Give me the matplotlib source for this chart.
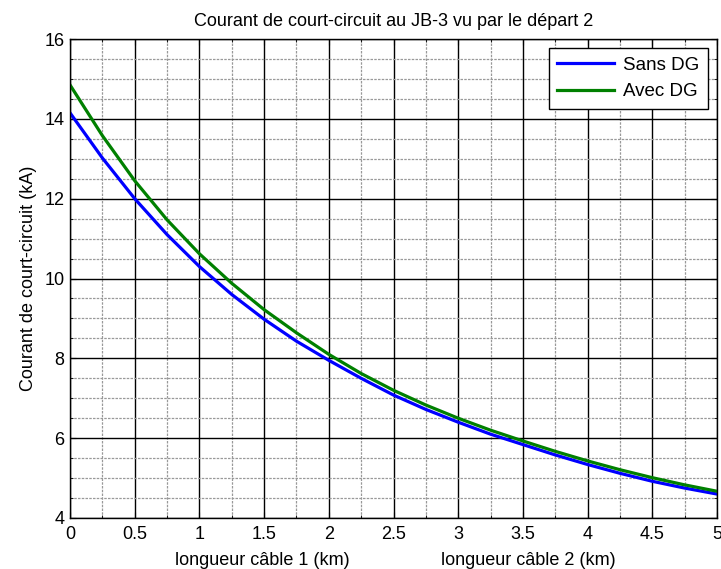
import matplotlib
matplotlib.use('Agg')
import matplotlib.pyplot as plt
from matplotlib.ticker import MultipleLocator
from matplotlib import transforms

plt.rcParams['font.family'] = ['Liberation Sans', 'DejaVu Sans']

# distance along the cables (km) and short-circuit current (kA)
longueur = [0, 0.25, 0.5, 0.75, 1, 1.25, 1.5, 1.75, 2, 2.25, 2.5,
            2.75, 3, 3.25, 3.5, 3.75, 4, 4.25, 4.5, 4.75, 5]
sans_dg = [14.15, 13.02, 12.0, 11.1, 10.3, 9.6, 8.98, 8.43, 7.95, 7.5, 7.08,
           6.72, 6.4, 6.1, 5.84, 5.58, 5.34, 5.12, 4.92, 4.75, 4.6]
avec_dg = [14.85, 13.58, 12.45, 11.47, 10.62, 9.88, 9.22, 8.64, 8.1, 7.62, 7.2,
           6.83, 6.5, 6.2, 5.93, 5.67, 5.43, 5.21, 5.01, 4.83, 4.67]

xticks = [0, 0.5, 1, 1.5, 2, 2.5, 3, 3.5, 4, 4.5, 5]
xticklabels = ['0', '0.5', '1', '1.5', '2', '2.5', '3', '3.5', '4', '4.5', '5']
yticks = [4, 6, 8, 10, 12, 14, 16]

fs = 13
fig = plt.figure(figsize=(7.21, 5.69), dpi=100)
ax = fig.add_axes([70 / 721, 51 / 569, 647 / 721, 479 / 569])

ax.plot(longueur, sans_dg, color='#0000ff', lw=2.3, label='Sans DG')
ax.plot(longueur, avec_dg, color='#008000', lw=2.3, label='Avec DG')

ax.set_xlim(0, 5)
ax.set_ylim(4, 16)
ax.set_xticks(xticks)
ax.set_xticklabels(xticklabels)
ax.set_yticks(yticks)
ax.xaxis.set_minor_locator(MultipleLocator(0.25))
ax.yaxis.set_minor_locator(MultipleLocator(0.5))

ax.grid(which='major', color='black', lw=1.0, ls='-')
ax.grid(which='minor', color='0.6', lw=0.9, ls=(0, (2, 1)))
ax.set_axisbelow(True)

ax.tick_params(which='both', direction='in', top=True, right=True,
               labelsize=fs)
ax.tick_params(axis='x', pad=6)
ax.tick_params(axis='y', pad=4)
ax.tick_params(which='major', length=4, width=0.8)
ax.tick_params(which='minor', length=2, width=0.6)
for sp in ax.spines.values():
    sp.set_color('black')
    sp.set_linewidth(1.0)

ax.set_title('Courant de court-circuit au JB-3 vu par le départ 2',
             fontsize=fs, pad=9)
ax.set_ylabel('Courant de court-circuit (kA)', fontsize=fs, labelpad=5)

trans = transforms.blended_transform_factory(ax.transData, ax.transAxes)
ax.text(1.49, -0.088, 'longueur câble 1 (km)', transform=trans,
        ha='center', va='center', fontsize=fs)
ax.text(3.54, -0.088, 'longueur câble 2 (km)', transform=trans,
        ha='center', va='center', fontsize=fs)

leg = ax.legend(loc='upper right', fontsize=13.5, fancybox=False,
                framealpha=1, edgecolor='black', borderaxespad=0.5,
                handlelength=3.0, handletextpad=0.5, borderpad=0.45,
                labelspacing=0.5)
leg.get_frame().set_linewidth(1.0)

fig.savefig('out.png', dpi=100)
